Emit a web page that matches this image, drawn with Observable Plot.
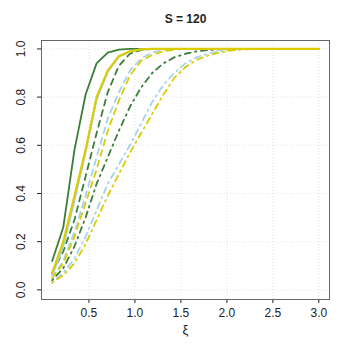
<!DOCTYPE html>
<html>
<head>
<meta charset="utf-8">
<script src="https://cdn.jsdelivr.net/npm/d3@7"></script>
<script src="https://cdn.jsdelivr.net/npm/@observablehq/plot@0.6"></script>
<style>
  html, body { margin: 0; padding: 0; background: #fff; }
  #chart svg { display: block; }
</style>
</head>
<body>
<div id="chart"></div>
<script>
const title = "S = 120";
const xLabel = "ξ";
const xTicks = [0.5, 1.0, 1.5, 2.0, 2.5, 3.0];
const yTicks = [0.0, 0.2, 0.4, 0.6, 0.8, 1.0];

const xi = [0.100, 0.221, 0.342, 0.463, 0.583, 0.704, 0.825, 0.946, 1.067, 1.188,
            1.308, 1.429, 1.550, 1.671, 1.792, 1.913, 2.033, 2.154, 2.275, 2.396,
            2.517, 2.638, 2.758, 2.879, 3.000];

// green series
const greenSolid   = [0.12, 0.26, 0.58, 0.81, 0.94, 0.985, 0.997, 1, 1, 1, 1, 1, 1, 1, 1, 1, 1, 1, 1, 1, 1, 1, 1, 1, 1];
const greenDashed  = [0.07, 0.16, 0.29, 0.47, 0.65, 0.82, 0.93, 0.98, 0.995, 1, 1, 1, 1, 1, 1, 1, 1, 1, 1, 1, 1, 1, 1, 1, 1];
const greenDotDash = [0.04, 0.09, 0.18, 0.30, 0.44, 0.55, 0.66, 0.76, 0.84, 0.90, 0.94, 0.965, 0.98, 0.99, 0.995, 0.998, 1, 1, 1, 1, 1, 1, 1, 1, 1];
// light blue series
const blueSolid    = [0.06, 0.18, 0.37, 0.57, 0.79, 0.905, 0.968, 0.99, 0.998, 1, 1, 1, 1, 1, 1, 1, 1, 1, 1, 1, 1, 1, 1, 1, 1];
const blueDashed   = [0.05, 0.12, 0.24, 0.39, 0.55, 0.71, 0.82, 0.91, 0.96, 0.985, 0.995, 1, 1, 1, 1, 1, 1, 1, 1, 1, 1, 1, 1, 1, 1];
const blueDotDash  = [0.03, 0.07, 0.13, 0.22, 0.33, 0.44, 0.52, 0.60, 0.69, 0.78, 0.85, 0.90, 0.94, 0.965, 0.98, 0.99, 0.996, 0.999, 1, 1, 1, 1, 1, 1, 1];
// yellow series
const yellowSolid  = [0.07, 0.20, 0.39, 0.58, 0.80, 0.91, 0.97, 0.99, 0.998, 1, 1, 1, 1, 1, 1, 1, 1, 1, 1, 1, 1, 1, 1, 1, 1];
const yellowDashed = [0.05, 0.11, 0.22, 0.36, 0.50, 0.66, 0.785, 0.89, 0.95, 0.975, 0.99, 0.997, 1, 1, 1, 1, 1, 1, 1, 1, 1, 1, 1, 1, 1];
const yellowDotDash= [0.03, 0.06, 0.11, 0.19, 0.29, 0.39, 0.48, 0.57, 0.65, 0.73, 0.81, 0.88, 0.925, 0.955, 0.972, 0.985, 0.993, 0.997, 0.999, 1, 1, 1, 1, 1, 1];

const GREEN = "#3b7d3b", BLUE = "#a3d3ee", YELLOW = "#dccb00";
const DASHED = "6,5", DOTDASH = "1.5,4.5,6,4.5";

const series = [
  {values: greenDotDash,  color: GREEN,  dash: DOTDASH, w: 1.8},
  {values: blueDotDash,   color: BLUE,   dash: DOTDASH, w: 1.8},
  {values: yellowDotDash, color: YELLOW, dash: DOTDASH, w: 1.8},
  {values: greenDashed,   color: GREEN,  dash: DASHED,  w: 1.8},
  {values: blueDashed,    color: BLUE,   dash: DASHED,  w: 1.8},
  {values: yellowDashed,  color: YELLOW, dash: DASHED,  w: 1.8},
  {values: greenSolid,    color: GREEN,  dash: null,    w: 1.8},
  {values: blueSolid,     color: BLUE,   dash: null,    w: 2.0},
  {values: yellowSolid,   color: YELLOW, dash: null,    w: 2.2},
];

const lineMarks = series.map(s => Plot.line(
  xi.map((x, i) => ({x, y: s.values[i]})),
  {x: "x", y: "y", stroke: s.color, strokeWidth: s.w, strokeDasharray: s.dash || undefined, strokeLinejoin: "round"}
));

const chart = Plot.plot({
  width: 349,
  height: 349,
  marginLeft: 41,
  marginRight: 20,
  marginTop: 40,
  marginBottom: 50,
  style: {fontFamily: "Liberation Sans, Arial, sans-serif", fontSize: "12px", color: "#222", background: "#fff"},
  x: {domain: [-0.016, 3.116], ticks: xTicks, tickFormat: d => d.toFixed(1), tickSize: 4, tickPadding: 5, label: null},
  y: {domain: [-0.04, 1.035], ticks: yTicks, tickFormat: d => d.toFixed(1), tickSize: 4, tickRotate: -90, tickPadding: 13, label: null},
  marks: [
    Plot.gridX(xTicks, {stroke: "#e2e2e2", strokeOpacity: 1, strokeDasharray: "1,2"}),
    Plot.gridY(yTicks, {stroke: "#e2e2e2", strokeOpacity: 1, strokeDasharray: "1,2"}),
    ...lineMarks,
    Plot.frame({stroke: "#666"}),
    Plot.text([title], {frameAnchor: "top", dy: -26, text: d => d, fontWeight: "bold", fontSize: 12}),
    Plot.text([xLabel], {frameAnchor: "bottom", dy: 34, text: d => d, fontSize: 13})
  ]
});
document.getElementById("chart").appendChild(chart);
</script>
</body>
</html>
